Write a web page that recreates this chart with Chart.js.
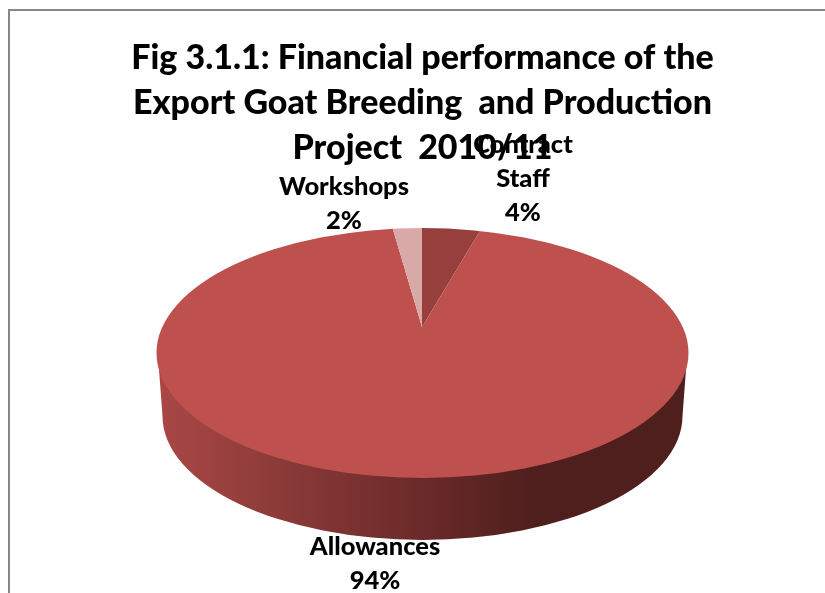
<!DOCTYPE html>
<html>
<head>
<meta charset="utf-8">
<style>
  html, body { margin: 0; padding: 0; background: #fff; overflow: hidden; }
  #frame { position: absolute; left: 8px; top: 9px; width: 830px; height: 600px; border-left: 2px solid #868686; border-top: 2px solid #868686; box-sizing: border-box; }
  #wrap { position: absolute; left: 0; top: 0; width: 825px; height: 593px; }
</style>
<script src="https://cdn.jsdelivr.net/npm/chart.js@4"></script>
</head>
<body>
<div id="frame"></div>
<div id="wrap"><canvas id="chart"></canvas></div>
<script>
const categories = [['Contract', 'Staff'], ['Allowances'], ['Workshops']];
const shares = [4, 94, 2];
const sliceColors = ['#973F3D', '#BE504E', '#D9A9A8'];
const titleLines = [
  'Fig 3.1.1: Financial performance of the',
  'Export Goat Breeding  and Production',
  'Project  2010/11'
];

const FONT = 'Lato, "Open Sans", sans-serif';

// Tilted-disc geometry for the 3D look
const disc = { cx: 422.5, cy: 353, rx: 266, ry: 125 };
const base = { cx: 422.5, cy: 416, rx: 260, ry: 124 };
const hub = { x: 422, y: 327, scaleX: 1.6, scaleY: 0.68 };

// Label anchors: centre of the first line of each text block
const labelBoxes = [
  { x: 523, y: 145, size: 25.5 },
  { x: 375, y: 547, size: 25.5 },
  { x: 344, y: 187, size: 25.5 }
];

const tiltedPie = {
  id: 'tiltedPie',
  beforeDatasetsDraw(chart) {
    const { ctx } = chart;
    const arc = chart.getDatasetMeta(0).data[0];

    // Side wall: lower ellipse plus the band joining it to the top face
    const wall = ctx.createLinearGradient(base.cx - base.rx, 0, base.cx + base.rx, 0);
    wall.addColorStop(0, '#A84745');
    wall.addColorStop(0.2, '#8E3C3A');
    wall.addColorStop(0.5, '#6A2A29');
    wall.addColorStop(0.72, '#4E1F1D');
    wall.addColorStop(1, '#4E1F1D');
    ctx.save();
    ctx.fillStyle = wall;
    ctx.beginPath();
    ctx.moveTo(disc.cx - disc.rx + 2, disc.cy + 10);
    ctx.lineTo(base.cx - base.rx, base.cy);
    ctx.ellipse(base.cx, base.cy, base.rx, base.ry, 0, Math.PI, 0, true);
    ctx.lineTo(disc.cx + disc.rx - 2, disc.cy + 10);
    ctx.closePath();
    ctx.fill();
    ctx.restore();

    // Top face: the pie's own arcs, squashed about the hub and trimmed to the disc
    ctx.save();
    ctx.beginPath();
    ctx.ellipse(disc.cx, disc.cy, disc.rx, disc.ry, 0, 0, Math.PI * 2);
    ctx.clip();
    ctx.translate(hub.x, hub.y);
    ctx.scale(hub.scaleX, hub.scaleY);
    ctx.translate(-arc.x, -arc.y);
  },
  afterDatasetsDraw(chart) {
    chart.ctx.restore();
  }
};

const sliceLabels = {
  id: 'sliceLabels',
  afterDraw(chart) {
    const { ctx } = chart;
    const values = chart.data.datasets[0].data;
    const total = values.reduce((a, b) => a + b, 0);
    ctx.save();
    ctx.fillStyle = '#000';
    ctx.textAlign = 'center';
    ctx.textBaseline = 'middle';
    chart.data.labels.forEach((label, i) => {
      const box = labelBoxes[i];
      const lines = [...label, Math.round(values[i] / total * 100) + '%'];
      ctx.font = `900 ${box.size}px ${FONT}`;
      lines.forEach((line, k) => ctx.fillText(line, box.x, box.y + k * 34));
    });
    ctx.restore();
  }
};

new Chart(document.getElementById('chart'), {
  type: 'pie',
  data: {
    labels: categories,
    datasets: [{
      data: shares,
      backgroundColor: sliceColors,
      borderWidth: 0,
      hoverOffset: 0
    }]
  },
  options: {
    responsive: true,
    maintainAspectRatio: false,
    animation: false,
    radius: 260,
    layout: { padding: { left: 20 } },
    plugins: {
      legend: { display: false },
      tooltip: { enabled: false },
      title: {
        display: true,
        fullSize: false,
        text: titleLines,
        color: '#000',
        font: { family: FONT, size: 34, weight: '900', lineHeight: 1.325 },
        padding: { top: 35.5, bottom: 0 }
      }
    }
  },
  plugins: [tiltedPie, sliceLabels]
});
</script>
</body>
</html>
